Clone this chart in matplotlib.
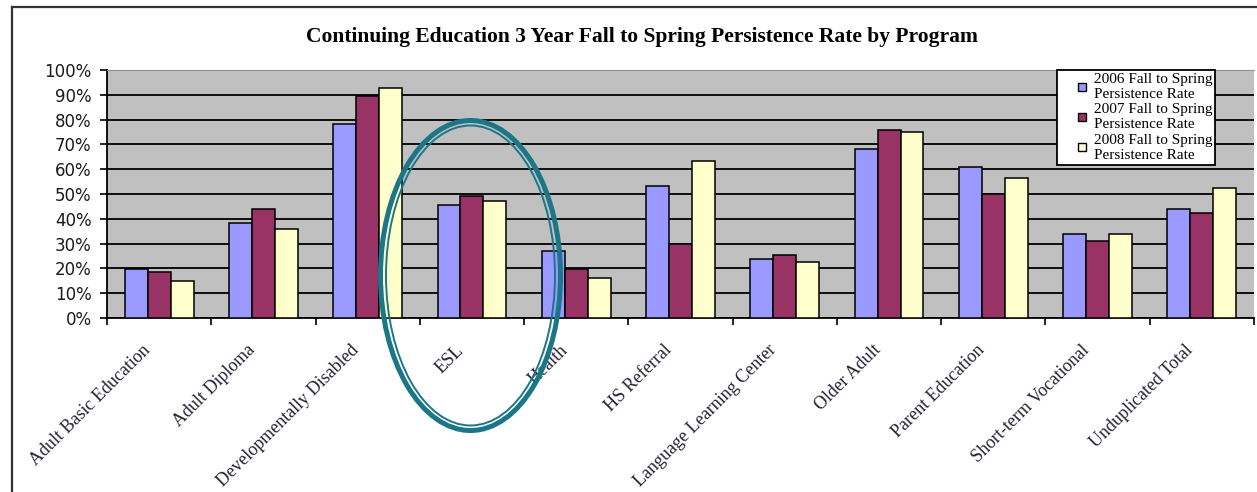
import matplotlib.pyplot as plt
import numpy as np
from matplotlib.patches import Ellipse
from matplotlib.lines import Line2D
from matplotlib.transforms import ScaledTranslation

programs = ["Adult Basic Education", "Adult Diploma", "Developmentally Disabled",
            "ESL", "Health", "HS Referral", "Language Learning Center",
            "Older Adult", "Parent Education", "Short-term Vocational",
            "Unduplicated Total"]
rate_2006 = [19.7, 38.5, 78.1, 45.6, 27.2, 53.4, 23.8, 68.0, 60.9, 33.8, 43.9]
rate_2007 = [18.6, 44.1, 89.5, 49.1, 19.9, 29.8, 25.6, 75.8, 50.2, 30.9, 42.4]
rate_2008 = [14.8, 35.7, 92.9, 47.2, 16.2, 63.5, 22.5, 75.1, 56.4, 33.8, 52.3]
series_labels = ["2006 Fall to Spring\nPersistence Rate",
                 "2007 Fall to Spring\nPersistence Rate",
                 "2008 Fall to Spring\nPersistence Rate"]
colors = ["#9999ff", "#993366", "#ffffcc"]

W, H = 1257, 492
fig = plt.figure(figsize=(W / 100, H / 100), dpi=100)

# plot area in pixel coords of the reference
left, right, top, bottom = 107, 1254, 70, 318
ax = fig.add_axes([left / W, 1 - bottom / H, (right - left) / W, (bottom - top) / H])
ax.set_facecolor("#c0c0c0")

x = np.arange(len(programs))
w = 0.22
for i, vals in enumerate([rate_2006, rate_2007, rate_2008]):
    ax.bar(x + (i - 1) * w, vals, width=w, color=colors[i], edgecolor="black",
           linewidth=1.1, zorder=3)

ax.set_xlim(-0.5, len(programs) - 0.5)
ax.set_ylim(0, 100)
ax.set_yticks(np.arange(0, 101, 10))
ax.set_yticklabels([f"{v}%" for v in range(0, 101, 10)], fontsize=12,
                   family="DejaVu Sans", color="#1a1a1a")
ax.yaxis.grid(True, color="black", linewidth=1.3, zorder=1)
ax.tick_params(axis="y", length=5, width=1.2, pad=6)

# category boundary ticks, labels at centres
ax.set_xticks(np.arange(-0.5, len(programs), 1.0), minor=False)
ax.set_xticklabels([])
ax.set_xticks(x, minor=True)
ax.set_xticklabels(programs, minor=True, rotation=45, ha="right", va="top",
                   rotation_mode="anchor", fontsize=13, family="Liberation Serif",
                   color="#222233")
ax.tick_params(axis="x", which="major", length=5, width=1.2)
ax.tick_params(axis="x", which="minor", length=0, pad=17)
for lab in ax.get_xticklabels(minor=True):
    lab.set_transform(lab.get_transform() + ScaledTranslation(-0.17, 0, fig.dpi_scale_trans))

for s in ["left", "bottom"]:
    ax.spines[s].set_color("black")
    ax.spines[s].set_linewidth(1.3)
ax.spines["top"].set_color("#909090")
ax.spines["right"].set_visible(False)

fig.text(642 / W, 1 - 37 / H,
         "Continuing Education 3 Year Fall to Spring Persistence Rate by Program",
         ha="center", va="center", fontsize=15.5, fontweight="bold",
         family="Liberation Serif")

handles = [Line2D([], [], linestyle="none", marker="s", markersize=6,
                  markerfacecolor=c, markeredgecolor="black", markeredgewidth=1.0)
           for c in colors]
leg = ax.legend(handles, series_labels, loc="upper left",
                bbox_to_anchor=(1057 / W, 1 - 70 / H),
                bbox_transform=fig.transFigure,
                prop={"family": "Liberation Serif", "size": 11},
                frameon=True, fancybox=False, framealpha=1, edgecolor="black",
                handlelength=2.9, handletextpad=-0.7,
                labelspacing=0.15, borderpad=0.2, borderaxespad=0)
leg.get_frame().set_linewidth(1.3)
leg.set_zorder(5)

# outer chart border (only top and left visible in the crop)
fig.add_artist(Line2D([11.5 / W, 1], [1 - 6.5 / H, 1 - 6.5 / H],
                      transform=fig.transFigure, color="#333333", linewidth=1.6))
fig.add_artist(Line2D([11.5 / W, 11.5 / W], [0, 1 - 6.5 / H],
                      transform=fig.transFigure, color="#333333", linewidth=1.6))

# highlight ellipse around ESL
for ew, eh, lw in [(180, 310, 3.6), (169, 300, 1.4)]:
    fig.add_artist(Ellipse((470.5 / W, 1 - 275.5 / H), ew / W, eh / H,
                           transform=fig.transFigure, fill=False,
                           edgecolor="#1b7688", linewidth=lw, zorder=10))

fig.savefig("out.png", dpi=100)
